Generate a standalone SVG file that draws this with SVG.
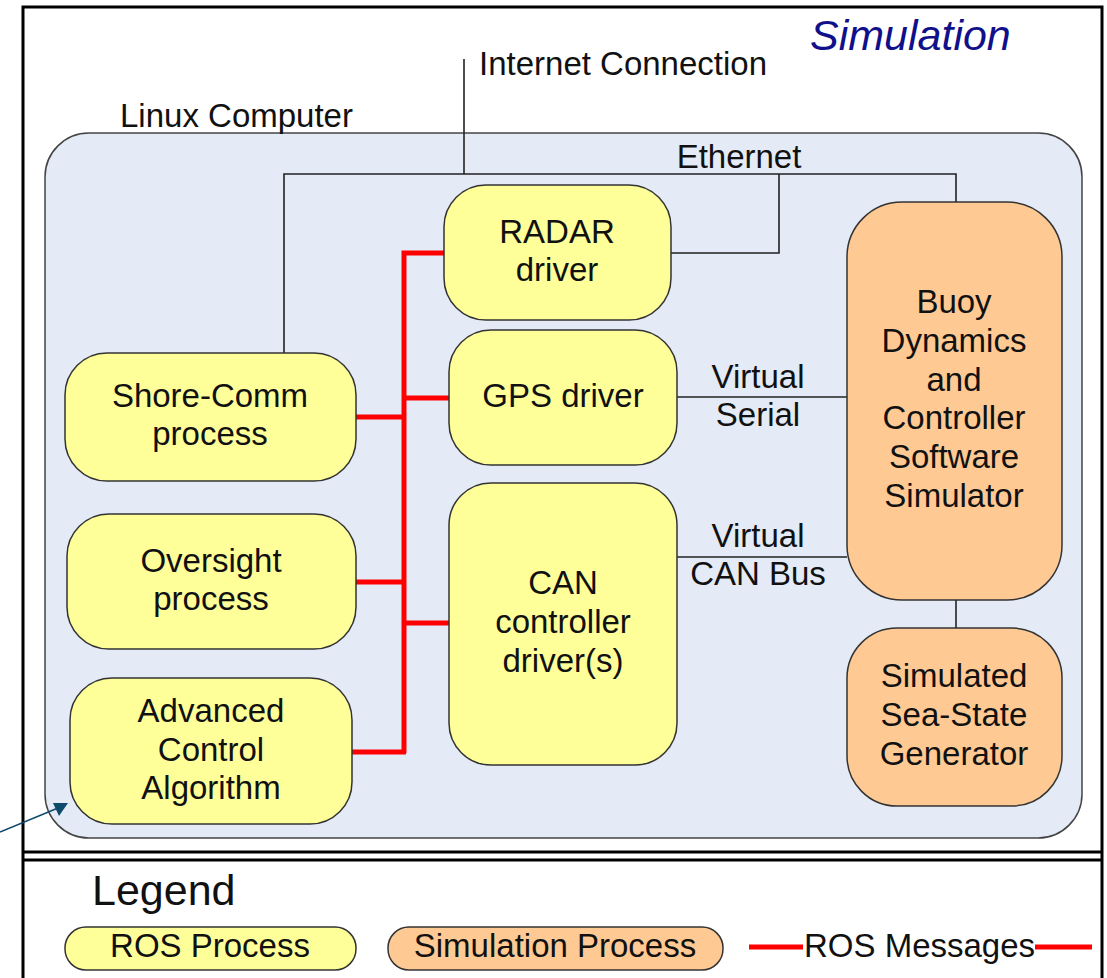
<svg xmlns="http://www.w3.org/2000/svg" width="1107" height="978" viewBox="0 0 1107 978">
<defs>
<style>
text{font-family:"Liberation Sans",Arial,sans-serif;font-size:33px;fill:#111;}
.c{text-anchor:middle;}
.ros{fill:#ffff99;stroke:#333;stroke-width:1.5;}
.sim{fill:#ffc993;stroke:#333;stroke-width:1.5;}
.thin{fill:none;stroke:#222;stroke-width:1.6;}
.red{fill:none;stroke:#ff0000;stroke-width:5;}
.frame{fill:none;stroke:#000;stroke-width:3;}
</style>
</defs>
<rect width="1107" height="978" fill="#fff"/>
<g id="frame">
<path class="frame" d="M23,978 V7 H1102 V978"/>
<line class="frame" x1="23" y1="852" x2="1102" y2="852"/>
<line class="frame" x1="23" y1="860" x2="1102" y2="860"/>
</g>
<text x="810" y="50" style="font-size:43px;font-style:italic;fill:#10108a;">Simulation</text>
<g id="linux">
<rect x="45" y="133" width="1037" height="705" rx="44" ry="44" fill="#e4ebf6" stroke="#444" stroke-width="1.5"/>
<text x="120" y="127">Linux Computer</text>
</g>
<g id="connectors">
<line class="thin" x1="464" y1="59" x2="464" y2="174"/>
<path class="thin" d="M284,353 V174 H956 V202"/>
<path class="thin" d="M671,253 H779 V174"/>
<line class="thin" x1="677" y1="397" x2="847" y2="397"/>
<line class="thin" x1="677" y1="557" x2="847" y2="557"/>
<line class="thin" x1="956" y1="600" x2="956" y2="628"/>
<path class="red" d="M444,253 H404 V753"/>
<line class="red" x1="356" y1="417" x2="404" y2="417"/>
<line class="red" x1="404" y1="398" x2="449" y2="398"/>
<line class="red" x1="356" y1="582" x2="404" y2="582"/>
<line class="red" x1="404" y1="623" x2="449" y2="623"/>
<line class="red" x1="352" y1="752" x2="406" y2="752"/>
<line x1="0" y1="832" x2="58" y2="808" stroke="#0d4a6b" stroke-width="1.6"/>
<polygon points="68,803 53,803 59,816" fill="#0d4a6b"/>
<text x="479" y="75">Internet Connection</text>
<text x="739" y="168" class="c">Ethernet</text>
<text x="758" y="388" class="c">Virtual</text>
<text x="758" y="426" class="c">Serial</text>
<text x="758" y="547" class="c">Virtual</text>
<text x="758" y="585" class="c">CAN Bus</text>
</g>
<g id="radar">
<rect class="ros" x="444" y="185" width="227" height="135" rx="42"/>
<text class="c" x="557" y="243">RADAR</text>
<text class="c" x="557" y="281">driver</text>
</g>
<g id="gps">
<rect class="ros" x="449" y="330" width="228" height="135" rx="42"/>
<text class="c" x="563" y="407">GPS driver</text>
</g>
<g id="can">
<rect class="ros" x="449" y="483" width="228" height="282" rx="42"/>
<text class="c" x="563" y="594">CAN</text>
<text class="c" x="563" y="633">controller</text>
<text class="c" x="563" y="672">driver(s)</text>
</g>
<g id="shore">
<rect class="ros" x="65" y="353" width="291" height="128" rx="42"/>
<text class="c" x="210" y="407">Shore-Comm</text>
<text class="c" x="210" y="445">process</text>
</g>
<g id="oversight">
<rect class="ros" x="67" y="514" width="289" height="135" rx="42"/>
<text class="c" x="211" y="572">Oversight</text>
<text class="c" x="211" y="610">process</text>
</g>
<g id="advanced">
<rect class="ros" x="70" y="678" width="282" height="146" rx="42"/>
<text class="c" x="211" y="722">Advanced</text>
<text class="c" x="211" y="761">Control</text>
<text class="c" x="211" y="799">Algorithm</text>
</g>
<g id="buoy">
<rect class="sim" x="847" y="202" width="215" height="398" rx="55"/>
<text class="c" x="954" y="313">Buoy</text>
<text class="c" x="954" y="352">Dynamics</text>
<text class="c" x="954" y="391">and</text>
<text class="c" x="954" y="429">Controller</text>
<text class="c" x="954" y="468">Software</text>
<text class="c" x="954" y="507">Simulator</text>
</g>
<g id="seastate">
<rect class="sim" x="847" y="628" width="215" height="178" rx="50"/>
<text class="c" x="954" y="687">Simulated</text>
<text class="c" x="954" y="726">Sea-State</text>
<text class="c" x="954" y="765">Generator</text>
</g>
<g id="legend">
<text x="92" y="905" style="font-size:43px;">Legend</text>
<rect class="ros" x="65" y="927" width="291" height="43" rx="21"/>
<text class="c" x="210" y="957">ROS Process</text>
<rect class="sim" x="388" y="927" width="335" height="43" rx="21"/>
<text class="c" x="555" y="957">Simulation Process</text>
<line class="red" x1="749" y1="947" x2="803" y2="947"/>
<text x="804" y="957">ROS Messages</text>
<line class="red" x1="1035" y1="947" x2="1092" y2="947"/>
</g>
</svg>
